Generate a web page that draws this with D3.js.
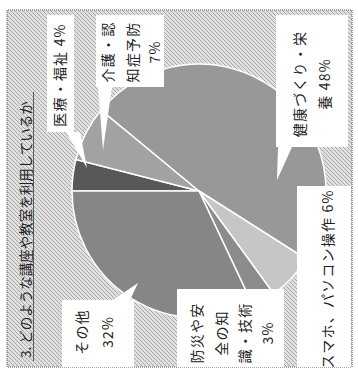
<!DOCTYPE html>
<html><head><meta charset="utf-8">
<script src="https://cdn.jsdelivr.net/npm/d3@7"></script>
<style>
html,body{margin:0;padding:0;background:#fff;}
svg{display:block;}
text{font-family:"Noto Sans CJK JP","Noto Sans",sans-serif;fill:#222;}
</style></head>
<body>
<svg id="c" width="358" height="372"></svg>
<script>
const title = "3. どのような講座や教室を利用しているか";
const categories = ["医療・福祉","介護・認知症予防","健康づくり・栄養","スマホ、パソコン操作","防災や安全の知識・技術","その他"];
const values = [4, 7, 48, 6, 3, 32];
const sliceColors = ["#585858","#a2a2a2","#989898","#c6c6c6","#8c8c8c","#868686"];
const labelLines = [
  ["医療・福祉 4%"],
  ["介護・認","知症予防","7%"],
  ["健康づくり・栄","養 48%"],
  ["スマホ、パソコン操作 6%"],
  ["防災や安","全の知","識・技術","3%"],
  ["その他","32%"]
];
// callout boxes in chart frame (u along reading direction, v across)
const boxes = [
  {u0:240,u1:357,v0:47,v1:74, cu:297, base:[66,80], tip:[204,87], lines:[65]},
  {u0:285,u1:357,v0:96,v1:164, cu:320, base:[98,112], tip:[222,103], lines:[113,138,160]},
  {u0:225,u1:357,v0:276,v1:348, cu:288, base:[278,292], tip:[192,277], lines:[305,330]},
  {u0:5,u1:186,v0:297,v1:351, cu:93, base:null, tip:null, lines:[333]},
  {u0:5,u1:83,v0:177,v1:284, cu:39, base:null, tip:null, lines:[202,227,250,273]},
  {u0:5,u1:72,v0:62,v1:134, cu:40, base:[113,130], tip:[89,138], lines:[87,113]}
];

const svg = d3.select("#c");
const defs = svg.append("defs");
const pat = defs.append("pattern").attr("id","bgpat").attr("patternUnits","userSpaceOnUse")
  .attr("width",4).attr("height",4);
pat.append("rect").attr("width",4).attr("height",4).attr("fill","#e0e0e0");
pat.append("path").attr("d","M0,4L4,0M-1,1L1,-1M3,5L5,3").attr("stroke","#a8a8a8").attr("stroke-width",1);

const g = svg.append("g").attr("transform","translate(0,372) rotate(-90)");

// frame
g.append("rect").attr("x",5).attr("y",7).attr("width",357).attr("height",345)
  .attr("fill","url(#bgpat)").attr("stroke","#8a8a8a").attr("stroke-width",1.5).attr("stroke-dasharray","1,1");

// title
g.append("text").attr("x",14).attr("y",31).attr("font-size",13.5).text(title);
g.append("line").attr("x1",11).attr("x2",280).attr("y1",33.5).attr("y2",33.5)
  .attr("stroke","#555").attr("stroke-width",1);

// pie
const cx = 181, cy = 199, R = 127;
const pie = d3.pie().sort(null).startAngle(0).endAngle(2*Math.PI);
const arc = d3.arc().innerRadius(0).outerRadius(R);
const pg = g.append("g").attr("transform",`translate(${cx},${cy})`);
pg.selectAll("path").data(pie(values)).join("path")
  .attr("d",arc).attr("fill",(d,i)=>sliceColors[i])
  .attr("stroke","#fff").attr("stroke-width",1.5);

// callouts
boxes.forEach((b,i)=>{
  g.append("rect").attr("x",b.u0).attr("y",b.v0).attr("width",b.u1-b.u0).attr("height",b.v1-b.v0).attr("fill","#fff");
  if (b.base) {
    const eu = (i===5) ? b.u1 : b.u0;
    const pts = [[eu,b.base[0]],[eu,b.base[1]],[b.tip[0],b.tip[1]]];
    g.append("polygon").attr("points",pts.map(p=>p.join(",")).join(" ")).attr("fill","#fff");
  }
  labelLines[i].forEach((ln,j)=>{
    g.append("text").attr("x",b.cu).attr("y",b.lines[j]).attr("text-anchor","middle")
      .attr("font-size",14).attr("letter-spacing",1.2).text(ln);
  });
});
</script>
</body></html>
